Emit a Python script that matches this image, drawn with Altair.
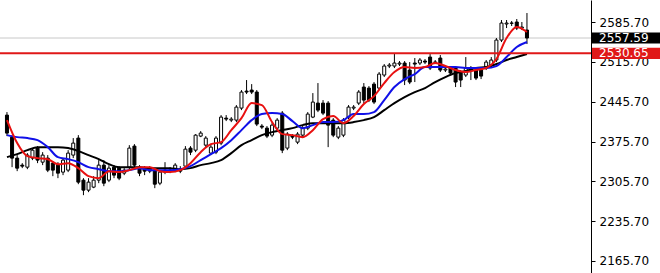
import altair as alt
import pandas as pd

# ---- data (price units) ----
opens = [2422.1, 2383.4, 2346.5, 2334.2, 2330.6, 2346.5, 2364.1, 2339.4, 2346.5, 2337.7,
         2334.2, 2321.9, 2325.4, 2351.8, 2381.7, 2307.8, 2290.2, 2295.5, 2307.8, 2334.2,
         2307.8, 2330.6, 2328.9, 2320.1, 2330.6, 2367.6, 2330.6, 2328.9, 2323.6, 2325.4,
         2302.5, 2321.9, 2325.4, 2325.4, 2327.1, 2332.4, 2364.1, 2360.5, 2385.2, 2369.3,
         2355.3, 2357.0, 2372.9, 2416.8, 2413.3, 2413.3, 2434.4, 2464.3, 2466.1, 2462.6,
         2402.8, 2399.2, 2386.9, 2399.2, 2425.6, 2364.1, 2385.2, 2374.6, 2386.9, 2399.2,
         2418.6, 2443.2, 2443.2, 2443.2, 2413.3, 2383.4, 2386.9, 2418.6, 2434.4, 2443.2,
         2471.4, 2469.6, 2476.6, 2469.6, 2492.5, 2508.3, 2508.3, 2511.8, 2513.6, 2501.3,
         2513.6, 2513.6, 2517.1, 2524.1, 2515.3, 2522.4, 2501.3, 2504.8, 2504.8, 2497.8,
         2492.5, 2504.8, 2501.3, 2501.3, 2504.8, 2510.1, 2518.9, 2554.0, 2582.2, 2583.9,
         2585.7, 2575.1, 2571.6]
closes = [2390.5, 2346.5, 2328.9, 2332.4, 2351.8, 2360.5, 2343.0, 2351.8, 2325.4, 2325.4,
          2320.1, 2343.0, 2355.3, 2372.9, 2304.3, 2290.2, 2304.3, 2307.8, 2334.2, 2302.5,
          2328.9, 2316.6, 2311.3, 2325.4, 2364.1, 2334.2, 2320.1, 2323.6, 2327.1, 2300.7,
          2321.9, 2325.4, 2323.6, 2334.2, 2323.6, 2362.3, 2357.0, 2386.9, 2390.5, 2381.7,
          2365.8, 2381.7, 2418.6, 2415.1, 2415.1, 2436.2, 2462.6, 2462.6, 2462.6, 2406.3,
          2401.0, 2385.2, 2404.5, 2413.3, 2360.5, 2388.7, 2383.4, 2388.7, 2399.2, 2423.9,
          2445.0, 2430.9, 2425.6, 2404.5, 2386.9, 2399.2, 2413.3, 2436.2, 2436.2, 2462.6,
          2448.5, 2448.5, 2445.0, 2494.2, 2508.3, 2510.1, 2513.6, 2513.6, 2483.7, 2480.2,
          2511.8, 2518.9, 2515.3, 2504.8, 2515.0, 2501.3, 2503.0, 2496.0, 2480.2, 2483.7,
          2504.8, 2503.0, 2487.2, 2490.7, 2515.3, 2518.9, 2554.0, 2583.9, 2583.9, 2583.5,
          2575.1, 2576.9, 2557.59]
highs = [2427.4, 2386.9, 2351.8, 2337.7, 2355.3, 2364.1, 2367.6, 2357.0, 2351.8, 2341.2,
         2339.4, 2346.5, 2360.5, 2381.7, 2386.9, 2311.3, 2311.3, 2314.8, 2343.0, 2343.0,
         2334.2, 2334.2, 2332.4, 2328.9, 2369.3, 2371.1, 2334.2, 2332.4, 2332.4, 2328.9,
         2325.4, 2339.4, 2330.6, 2337.7, 2332.4, 2367.6, 2367.6, 2388.7, 2394.0, 2385.2,
         2371.1, 2385.2, 2422.1, 2422.1, 2418.6, 2439.7, 2466.1, 2483.7, 2476.6, 2466.1,
         2406.3, 2402.8, 2408.0, 2416.8, 2429.2, 2392.2, 2388.7, 2392.2, 2402.8, 2427.4,
         2460.8, 2478.4, 2448.5, 2446.7, 2416.8, 2402.8, 2416.8, 2439.7, 2439.7, 2466.1,
         2478.4, 2473.1, 2480.2, 2497.8, 2511.8, 2513.6, 2531.2, 2517.1, 2517.1, 2515.3,
         2522.4, 2522.4, 2520.6, 2529.4, 2518.9, 2527.7, 2506.5, 2508.3, 2508.3, 2501.3,
         2524.1, 2508.3, 2504.8, 2504.8, 2518.9, 2524.1, 2557.6, 2589.2, 2589.2, 2587.5,
         2591.0, 2585.7, 2601.5]
lows = [2385.2, 2330.6, 2323.6, 2328.9, 2327.1, 2343.0, 2337.7, 2334.2, 2321.9, 2314.8,
        2311.3, 2316.6, 2321.9, 2346.5, 2300.7, 2281.4, 2286.7, 2293.7, 2302.5, 2297.2,
        2304.3, 2311.3, 2307.8, 2316.6, 2327.1, 2328.9, 2314.8, 2316.6, 2320.1, 2293.7,
        2299.0, 2318.3, 2320.1, 2321.9, 2320.1, 2328.9, 2351.8, 2357.0, 2383.4, 2365.8,
        2351.8, 2353.5, 2369.3, 2411.6, 2409.8, 2409.8, 2430.9, 2459.1, 2459.1, 2402.8,
        2397.5, 2381.7, 2383.4, 2395.7, 2355.3, 2360.5, 2379.9, 2371.1, 2383.4, 2395.7,
        2416.8, 2427.4, 2422.1, 2365.8, 2383.4, 2379.9, 2383.4, 2415.1, 2430.9, 2439.7,
        2443.2, 2445.0, 2441.5, 2466.1, 2489.0, 2504.8, 2504.8, 2508.3, 2474.9, 2476.6,
        2480.2, 2510.1, 2511.8, 2501.3, 2511.8, 2497.8, 2497.8, 2492.5, 2471.4, 2471.4,
        2489.0, 2483.7, 2483.7, 2485.4, 2501.3, 2506.5, 2515.3, 2550.5, 2575.1, 2578.7,
        2571.6, 2571.6, 2547.0]

# moving averages, read at every second bar
ma_step = 2
ma_red = [2413.3, 2372.9, 2350.0, 2346.5, 2344.7, 2335.9, 2337.7, 2328.9, 2314.8, 2311.3,
          2323.6, 2321.9, 2325.4, 2330.6, 2330.6, 2323.6, 2321.9, 2325.4, 2337.7, 2357.0,
          2371.1, 2374.6, 2395.7, 2416.8, 2443.2, 2439.7, 2409.8, 2388.7, 2386.9, 2383.4,
          2395.7, 2415.1, 2420.4, 2408.0, 2420.4, 2441.5, 2455.5, 2478.4, 2497.8, 2506.5,
          2504.8, 2506.5, 2513.6, 2508.3, 2501.3, 2497.8, 2501.3, 2504.8, 2520.6, 2557.6,
          2576.9, 2568.1]
ma_blue = [2386.9, 2383.4, 2381.7, 2378.1, 2365.8, 2348.2, 2344.7, 2339.4, 2330.6, 2327.1,
           2323.6, 2323.6, 2325.4, 2328.9, 2325.4, 2325.4, 2325.4, 2327.1, 2332.4, 2343.0,
           2353.5, 2364.1, 2378.1, 2395.7, 2413.3, 2423.9, 2425.6, 2423.9, 2411.6, 2399.2,
           2404.5, 2409.8, 2409.8, 2413.3, 2423.9, 2423.9, 2427.4, 2448.5, 2471.4, 2485.4,
           2494.2, 2506.5, 2506.5, 2506.5, 2506.5, 2504.8, 2504.8, 2504.8, 2508.3, 2524.1,
           2541.7, 2550.5]
ma_black = [2348.2, 2353.5, 2360.5, 2365.8, 2365.8, 2365.8, 2364.1, 2358.8, 2351.8, 2344.7,
            2335.9, 2330.6, 2330.6, 2330.6, 2328.9, 2328.9, 2328.9, 2327.1, 2328.9, 2334.2,
            2337.7, 2343.0, 2355.3, 2369.3, 2378.1, 2386.9, 2392.2, 2395.7, 2399.2, 2404.5,
            2408.0, 2408.0, 2408.0, 2408.0, 2409.8, 2413.3, 2418.6, 2430.9, 2443.2, 2453.8,
            2462.6, 2469.6, 2480.2, 2489.0, 2496.0, 2499.5, 2504.8, 2506.5, 2511.8, 2518.9,
            2524.1, 2529.4]

tick_values = [2165.70, 2235.70, 2305.70, 2375.70, 2445.70, 2515.70, 2585.70]
bid_price = 2557.59
level_price = 2530.65

# ---- tables ----
n = len(opens)
bars = pd.DataFrame({
    "i": list(range(n)), "open": opens, "close": closes, "high": highs, "low": lows,
})
bars["dir"] = ["up" if c >= o else "down" for o, c in zip(opens, closes)]

ma_rows = []
for name, vals in [("black", ma_black), ("blue", ma_blue), ("red", ma_red)]:
    for k, v in enumerate(vals):
        ma_rows.append({"i": k * ma_step, "v": v, "ma": name})
ma_df = pd.DataFrame(ma_rows)

tags = pd.DataFrame({
    "p": [bid_price, level_price],
    "label": [f"{bid_price:.2f}", f"{level_price:.2f}"],
    "kind": ["bid", "level"],
})

FONT = "DejaVu Sans"
xs = alt.Scale(domain=[-0.386, 113.58], nice=False, zero=False)
ys = alt.Scale(domain=[2144.6, 2624.4], nice=False, zero=False)
X = alt.X("i:Q", scale=xs, axis=None)

yaxis = alt.Axis(orient="right", values=tick_values, format=".2f", title=None,
                 grid=False, labelFont=FONT, labelFontSize=12, labelColor="#000",
                 tickColor="#000", tickSize=4, domainColor="#000", domainWidth=1,
                 labelPadding=4, labelOverlap=False, labelFlush=False, ticks=True,
                 zindex=0)


def Y(field):
    return alt.Y(field, scale=ys, axis=yaxis)


bid_line = alt.Chart(tags[tags.kind == "bid"]).mark_rule(color="#c8c8c8", strokeWidth=1).encode(
    y=Y("p:Q"))

wicks = alt.Chart(bars).mark_rule(color="black", strokeWidth=1).encode(
    x=X, y=Y("low:Q"), y2="high:Q")

bodies = alt.Chart(bars).mark_bar(width=3, stroke="black", strokeWidth=1).encode(
    x=X, y=Y("open:Q"), y2="close:Q",
    fill=alt.Fill("dir:N", scale=alt.Scale(domain=["up", "down"], range=["white", "black"]),
                  legend=None))

ma_lines = alt.Chart(ma_df).mark_line(strokeWidth=2, interpolate="monotone").encode(
    x=X, y=Y("v:Q"),
    color=alt.Color("ma:N", scale=alt.Scale(domain=["black", "blue", "red"],
                                            range=["#000000", "#1010e8", "#e81010"]),
                    legend=None),
    order=alt.Order("i:Q"))

level_line = alt.Chart(tags[tags.kind == "level"]).mark_rule(color="#e01818", strokeWidth=2).encode(
    y=Y("p:Q"))

box_path = "M-1,-0.165L1,-0.165L1,0.165L-1,0.165Z"
boxes = alt.Chart(tags).mark_point(shape=box_path, size=4624, filled=True, opacity=1).encode(
    x=alt.value(626), y=Y("p:Q"),
    color=alt.Color("kind:N", scale=alt.Scale(domain=["bid", "level"], range=["#000000", "#e01818"]),
                    legend=None))

box_text = alt.Chart(tags).mark_text(align="left", baseline="middle", color="white",
                                     font=FONT, fontSize=12).encode(
    x=alt.value(599), y=Y("p:Q"), text="label:N")

chart = alt.layer(bid_line, wicks, bodies, ma_lines, level_line, boxes, box_text).resolve_scale(
    color="independent"
).properties(
    width=591, height=273,
    padding={"left": 0, "top": 0, "right": 69, "bottom": 0},
    autosize=alt.AutoSizeParams(type="none"),
    background="white",
).configure_view(stroke=None)

chart.save("out.html", embed_options={"renderer": "svg", "actions": False})
